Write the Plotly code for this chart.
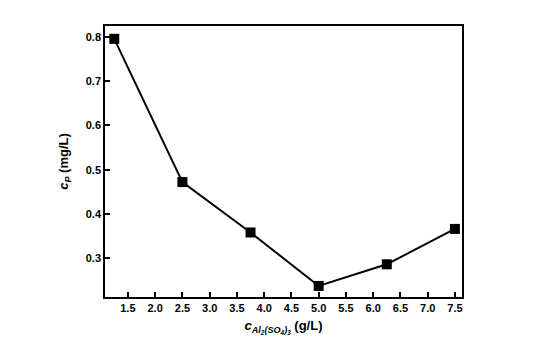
import plotly.graph_objects as go

x_dose = [1.25, 2.5, 3.75, 5.0, 6.25, 7.5]
c_p = [0.796, 0.472, 0.358, 0.237, 0.286, 0.366]
x_ticks = [1.5, 2.0, 2.5, 3.0, 3.5, 4.0, 4.5, 5.0, 5.5, 6.0, 6.5, 7.0, 7.5]
y_ticks = [0.3, 0.4, 0.5, 0.6, 0.7, 0.8]

fig = go.Figure()
fig.add_trace(go.Scatter(
    x=x_dose, y=c_p, mode="lines+markers",
    line=dict(color="black", width=2),
    marker=dict(symbol="square", size=10, color="black"),
    showlegend=False,
))

font = dict(family="Liberation Sans, Arial, sans-serif", size=12, color="black")
fig.update_layout(
    width=550, height=351,
    margin=dict(l=105, r=88, t=26, b=54),
    paper_bgcolor="white", plot_bgcolor="white",
    font=font,
)
fig.update_xaxes(
    range=[1.08, 7.63], tickvals=x_ticks,
    ticktext=[f"<b>{v:.1f}</b>" for v in x_ticks],
    ticks="inside", ticklen=5, tickwidth=1.5, tickcolor="black",
    showline=True, linecolor="black", linewidth=1.5, mirror=True,
    showgrid=False, zeroline=False,
    title=dict(text="<b><i>c</i><sub><i>Al<sub>2</sub>(SO<sub>4</sub>)<sub>3</sub></i></sub> (g/L)</b>", standoff=8,
               font=dict(size=13)),
    tickfont=dict(size=11),
)
fig.update_yaxes(
    range=[0.212, 0.825], tickvals=y_ticks,
    ticktext=[f"<b>{v:.1f}</b>" for v in y_ticks],
    ticks="inside", ticklen=5, tickwidth=1.5, tickcolor="black",
    showline=True, linecolor="black", linewidth=1.5, mirror=True,
    showgrid=False, zeroline=False,
    title=dict(text="<b><i>c</i><sub><i>P</i></sub> (mg/L)</b>", standoff=14,
               font=dict(size=13)),
    tickfont=dict(size=11),
)
fig.write_html("out.html")
